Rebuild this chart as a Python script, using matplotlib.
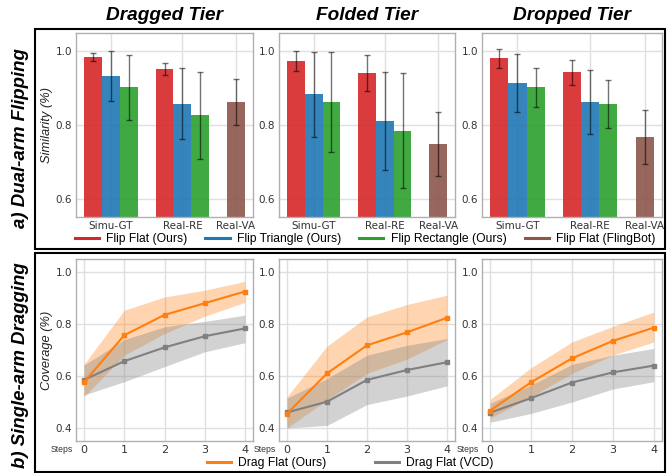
import matplotlib
matplotlib.use("Agg")
import matplotlib.pyplot as plt
from matplotlib.lines import Line2D
from matplotlib.patches import Rectangle

# ---------------- data ----------------
tiers = ["Dragged Tier", "Folded Tier", "Dropped Tier"]
groups = ["Simu-GT", "Real-RE", "Real-VA"]

flip_flat_mean = [[0.985, 0.952], [0.974, 0.942], [0.981, 0.943]]
flip_flat_err = [[0.011, 0.016], [0.026, 0.049], [0.026, 0.033]]
flip_tri_mean = [[0.932, 0.858], [0.883, 0.811], [0.914, 0.862]]
flip_tri_err = [[0.068, 0.097], [0.115, 0.134], [0.078, 0.087]]
flip_rect_mean = [[0.902, 0.826], [0.862, 0.785], [0.903, 0.857]]
flip_rect_err = [[0.089, 0.118], [0.136, 0.155], [0.053, 0.066]]
fling_mean = [0.862, 0.749, 0.768]
fling_err = [0.062, 0.087, 0.074]

steps = [0, 1, 2, 3, 4]
drag_ours = [[0.576, 0.757, 0.835, 0.880, 0.925],
             [0.455, 0.610, 0.718, 0.768, 0.824],
             [0.467, 0.576, 0.668, 0.735, 0.786]]
drag_ours_hi = [[0.645, 0.853, 0.904, 0.930, 0.964],
                [0.520, 0.715, 0.827, 0.875, 0.911],
                [0.510, 0.632, 0.731, 0.791, 0.846]]
drag_ours_lo = [[0.520, 0.680, 0.763, 0.830, 0.883],
                [0.400, 0.508, 0.610, 0.665, 0.740],
                [0.438, 0.520, 0.610, 0.680, 0.731]]
drag_vcd = [[0.585, 0.657, 0.710, 0.753, 0.783],
            [0.460, 0.501, 0.585, 0.623, 0.653],
            [0.459, 0.515, 0.575, 0.614, 0.640]]
drag_vcd_hi = [[0.642, 0.740, 0.789, 0.810, 0.834],
               [0.515, 0.590, 0.680, 0.718, 0.744],
               [0.495, 0.565, 0.645, 0.680, 0.706]]
drag_vcd_lo = [[0.527, 0.578, 0.636, 0.693, 0.728],
               [0.400, 0.410, 0.490, 0.523, 0.562],
               [0.422, 0.456, 0.500, 0.550, 0.578]]

bar_labels = ["Flip Flat (Ours)", "Flip Triangle (Ours)", "Flip Rectangle (Ours)", "Flip Flat (FlingBot)"]
bar_colors = ["#d62728", "#1f77b4", "#2ca02c", "#8c564b"]
line_labels = ["Drag Flat (Ours)", "Drag Flat (VCD)"]
line_colors = ["#ff7f0e", "#808080"]

# ---------------- figure ----------------
W, H = 671, 473
fig = plt.figure(figsize=(W / 100, H / 100), dpi=100)
SANS = ["Liberation Sans", "DejaVu Sans"]
TICKC = "#333333"

def px_ax(left, top, width, height):
    return fig.add_axes([left / W, 1 - (top + height) / H, width / W, height / H])

lefts = [76, 279, 482]
widths = [177, 176, 180]

def style(ax):
    ax.set_axisbelow(True)
    ax.grid(True, color="#e0e0e0", lw=1.0)
    for s in ax.spines.values():
        s.set_color("#b0b0b0")
        s.set_linewidth(1.0)
    ax.tick_params(length=0, pad=3, labelsize=7.5, colors=TICKC)

bw = 0.25
gx = [0, 1, 1.75]
for i in range(3):
    ax = px_ax(lefts[i], 33, widths[i], 184)
    style(ax)
    ekw = dict(ecolor="black", alpha=0.55, capsize=2.5, elinewidth=1.0, capthick=1.0)
    xs = [gx[0], gx[1]]
    ax.bar([x - bw for x in xs], flip_flat_mean[i], bw, yerr=flip_flat_err[i],
           color=bar_colors[0], alpha=0.9, error_kw=ekw)
    ax.bar(xs, flip_tri_mean[i], bw, yerr=flip_tri_err[i],
           color=bar_colors[1], alpha=0.9, error_kw=ekw)
    ax.bar([x + bw for x in xs], flip_rect_mean[i], bw, yerr=flip_rect_err[i],
           color=bar_colors[2], alpha=0.9, error_kw=ekw)
    ax.bar([gx[2]], [fling_mean[i]], bw, yerr=[fling_err[i]],
           color=bar_colors[3], alpha=0.9, error_kw=ekw)
    ax.set_xticks(gx)
    ax.set_xticklabels(groups)
    ax.set_ylim(0.55, 1.05)
    ax.set_yticks([0.6, 0.8, 1.0])
    ax.set_xlim(-0.4875, 1.9875)
    fig.text((lefts[i] + widths[i] / 2) / W, 1 - 16 / H, tiers[i], ha="center", va="center",
             fontsize=13.7, fontweight="bold", fontstyle="italic", family=SANS)

for i in range(3):
    ax = px_ax(lefts[i], 259, widths[i], 182)
    style(ax)
    ax.fill_between(steps, drag_ours_lo[i], drag_ours_hi[i], color=line_colors[0], alpha=0.32, lw=0)
    ax.fill_between(steps, drag_vcd_lo[i], drag_vcd_hi[i], color=line_colors[1], alpha=0.35, lw=0)
    ax.plot(steps, drag_vcd[i], color=line_colors[1], lw=1.5, marker="s", ms=2.5)
    ax.plot(steps, drag_ours[i], color=line_colors[0], lw=1.5, marker="s", ms=2.5)
    ax.set_xlim(-0.2, 4.2)
    ax.set_ylim(0.35, 1.05)
    ax.set_xticks(steps)
    ax.set_yticks([0.4, 0.6, 0.8, 1.0])
    ax.tick_params(axis="x", labelsize=8)
    ax.annotate("Steps", xy=(0, 0), xycoords="axes fraction", xytext=(-3, -8),
                textcoords="offset pixels", ha="right", va="center", fontsize=6.2,
                family=SANS, color=TICKC)

# y labels
fig.text(47 / W, 1 - 125 / H, "Similarity (%)", rotation=90, ha="center", va="center",
         fontsize=9.3, fontstyle="italic", family=SANS, color="#222222")
fig.text(47 / W, 1 - 350 / H, "Coverage (%)", rotation=90, ha="center", va="center",
         fontsize=9.3, fontstyle="italic", family=SANS, color="#222222")

# row labels
fig.text(21 / W, 1 - 138 / H, "a) Dual-arm Flipping", rotation=90, ha="center", va="center",
         fontsize=13.4, fontweight="bold", fontstyle="italic", family=SANS)
fig.text(21 / W, 1 - 365 / H, "b) Single-arm Dragging", rotation=90, ha="center", va="center",
         fontsize=13.4, fontweight="bold", fontstyle="italic", family=SANS)

# boxes
for (x0, y0, x1, y1) in [(35, 29, 665, 249), (35, 253, 665, 472)]:
    fig.patches.append(Rectangle((x0 / W, 1 - y1 / H), (x1 - x0) / W, (y1 - y0) / H,
                                 transform=fig.transFigure, fill=False, ec="black", lw=1.5))

# legends
bh = [Line2D([], [], color=c, lw=2.2) for c in bar_colors]
fig.legend(bh, bar_labels, loc="center", bbox_to_anchor=(365 / W, 1 - 239 / H), ncol=4,
           frameon=False, prop={"family": SANS, "size": 8.7}, handlelength=2.0,
           handletextpad=0.6, columnspacing=1.5, borderaxespad=0, borderpad=0)
lh = [Line2D([], [], color=c, lw=2.2) for c in line_colors]
fig.legend(lh, line_labels, loc="center", bbox_to_anchor=(350 / W, 1 - 463 / H), ncol=2,
           frameon=False, prop={"family": SANS, "size": 8.7}, handlelength=2.0,
           handletextpad=0.6, columnspacing=4.0, borderaxespad=0, borderpad=0)

fig.savefig("out.png", dpi=100)
